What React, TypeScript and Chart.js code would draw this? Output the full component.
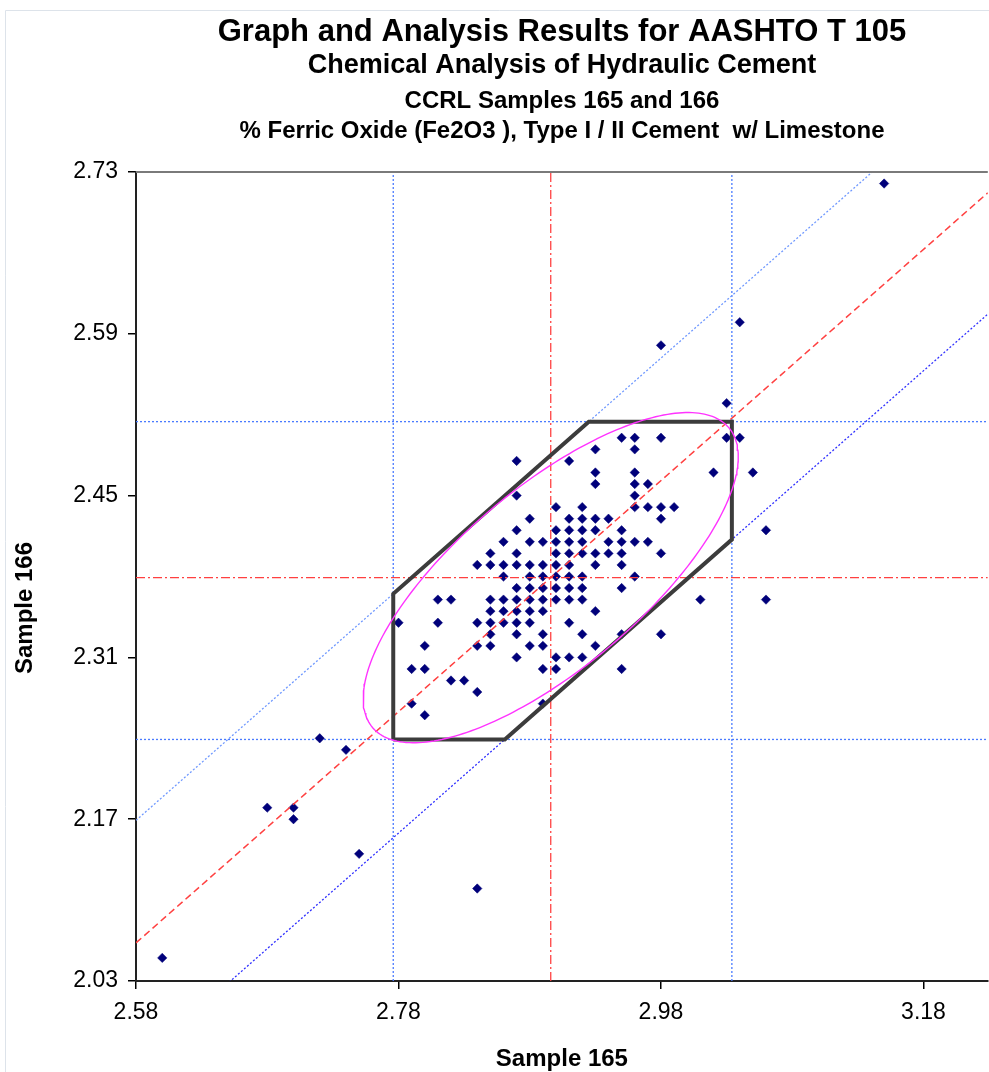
import React, { useEffect, useRef } from "react";
import { Chart, registerables } from "chart.js";

Chart.register(...registerables);

const FONT = "'Liberation Sans', Arial, Helvetica, sans-serif";

const titleLines = [
  "Graph and Analysis Results for AASHTO T 105",
  "Chemical Analysis of Hydraulic Cement",
  "CCRL Samples 165 and 166",
  "% Ferric Oxide (Fe2O3 ), Type I / II Cement  w/ Limestone",
];
const xAxisTitle = "Sample 165";
const yAxisTitle = "Sample 166";

const xTicks = [2.58, 2.78, 2.98, 3.18];
const yTicks = [2.03, 2.17, 2.31, 2.45, 2.59, 2.73];
const xRange = [2.58, 3.229];
const yRange = [2.03, 2.73];

// Laboratory results, one entry per lab: Sample 165 (x) and Sample 166 (y)
const sample165 = [
  3.15,
  3.04,
  2.98,
  3.03,
  2.95, 2.96, 2.98, 3.03, 3.04,
  2.93, 2.96,
  2.87, 2.91,
  2.93, 2.96, 3.02, 3.05,
  2.93, 2.96, 2.97,
  2.87, 2.96,
  2.90, 2.92, 2.96, 2.97, 2.98, 2.99,
  2.88, 2.91, 2.92, 2.93, 2.94, 2.98,
  2.87, 2.90, 2.91, 2.92, 2.93, 2.95, 3.06,
  2.86, 2.88, 2.89, 2.90, 2.91, 2.92, 2.94, 2.95, 2.96, 2.97,
  2.85, 2.87, 2.90, 2.91, 2.92, 2.93, 2.94, 2.95, 2.98,
  2.84, 2.85, 2.86, 2.87, 2.88, 2.89, 2.90, 2.91, 2.93, 2.95,
  2.86, 2.88, 2.89, 2.90, 2.91, 2.92, 2.96,
  2.87, 2.88, 2.89, 2.90, 2.91, 2.92, 2.95,
  2.81, 2.82, 2.85, 2.86, 2.87, 2.88, 2.89, 2.90, 2.91, 2.92, 3.01, 3.06,
  2.85, 2.86, 2.87, 2.88, 2.89, 2.93,
  2.78, 2.81, 2.84, 2.85, 2.86, 2.87, 2.88, 2.91,
  2.85, 2.87, 2.89, 2.92, 2.95, 2.98,
  2.80, 2.84, 2.85, 2.88, 2.89, 2.93,
  2.87, 2.90, 2.91, 2.92,
  2.79, 2.80, 2.89, 2.90, 2.95,
  2.82, 2.83,
  2.84,
  2.79, 2.89,
  2.80,
  2.72,
  2.74,
  2.68, 2.70,
  2.70,
  2.75,
  2.84,
  2.60,
];

const sample166 = [
  2.72,
  2.60,
  2.58,
  2.53,
  2.50, 2.50, 2.50, 2.50, 2.50,
  2.49, 2.49,
  2.48, 2.48,
  2.47, 2.47, 2.47, 2.47,
  2.46, 2.46, 2.46,
  2.45, 2.45,
  2.44, 2.44, 2.44, 2.44, 2.44, 2.44,
  2.43, 2.43, 2.43, 2.43, 2.43, 2.43,
  2.42, 2.42, 2.42, 2.42, 2.42, 2.42, 2.42,
  2.41, 2.41, 2.41, 2.41, 2.41, 2.41, 2.41, 2.41, 2.41, 2.41,
  2.40, 2.40, 2.40, 2.40, 2.40, 2.40, 2.40, 2.40, 2.40,
  2.39, 2.39, 2.39, 2.39, 2.39, 2.39, 2.39, 2.39, 2.39, 2.39,
  2.38, 2.38, 2.38, 2.38, 2.38, 2.38, 2.38,
  2.37, 2.37, 2.37, 2.37, 2.37, 2.37, 2.37,
  2.36, 2.36, 2.36, 2.36, 2.36, 2.36, 2.36, 2.36, 2.36, 2.36, 2.36, 2.36,
  2.35, 2.35, 2.35, 2.35, 2.35, 2.35,
  2.34, 2.34, 2.34, 2.34, 2.34, 2.34, 2.34, 2.34,
  2.33, 2.33, 2.33, 2.33, 2.33, 2.33,
  2.32, 2.32, 2.32, 2.32, 2.32, 2.32,
  2.31, 2.31, 2.31, 2.31,
  2.30, 2.30, 2.30, 2.30, 2.30,
  2.29, 2.29,
  2.28,
  2.27, 2.27,
  2.26,
  2.24,
  2.23,
  2.18, 2.18,
  2.17,
  2.14,
  2.11,
  2.05,
];

// Averages of the two samples
const mean165 = 2.896;
const mean166 = 2.379;
// Acceptance limits for each sample
const limits165 = [2.776, 3.034];
const limits166 = [2.239, 2.514];
// Offsets of the y = x + c lines (1:1 line through the averages and its bounds)
const diagOffsetMid = mean166 - mean165;
const diagOffsetUpper = -0.411;
const diagOffsetLower = -0.622;
// Confidence ellipse semi-axes, along and across the 1:1 direction
const ellipseMajor = 0.188;
const ellipseMinor = 0.074;

type P = { x: number; y: number };

function diagonal(offset: number): P[] {
  return [
    { x: xRange[0], y: xRange[0] + offset },
    { x: xRange[1], y: xRange[1] + offset },
  ];
}

function ellipsePoints(): P[] {
  const pts: P[] = [];
  const n = 240;
  for (let i = 0; i <= n; i++) {
    const t = (i / n) * Math.PI * 2;
    const u = ellipseMajor * Math.cos(t);
    const v = ellipseMinor * Math.sin(t);
    pts.push({ x: mean165 + (u - v) / Math.SQRT2, y: mean166 + (u + v) / Math.SQRT2 });
  }
  return pts;
}

function acceptancePolygon(): P[] {
  const [xl, xh] = limits165;
  const [yl, yh] = limits166;
  return [
    { x: xl, y: yl },
    { x: xl, y: xl + diagOffsetUpper },
    { x: yh - diagOffsetUpper, y: yh },
    { x: xh, y: yh },
    { x: xh, y: xh + diagOffsetLower },
    { x: yl - diagOffsetLower, y: yl },
    { x: xl, y: yl },
  ];
}

function lineSet(data: P[], color: string, width: number, dash: number[], order: number) {
  return {
    data,
    showLine: true,
    borderColor: color,
    backgroundColor: color,
    borderWidth: width,
    borderDash: dash,
    borderCapStyle: "butt",
    pointRadius: 0,
    pointHoverRadius: 0,
    fill: false,
    tension: 0,
    order,
  };
}

const decorations = {
  id: "decorations",
  afterDraw(chart: any) {
    const ctx: CanvasRenderingContext2D = chart.ctx;
    const { left, right, top } = chart.chartArea;
    ctx.save();
    // outer frame
    ctx.strokeStyle = "#dde3ea";
    ctx.lineWidth = 1;
    ctx.beginPath();
    ctx.moveTo(5.5, 1072);
    ctx.lineTo(5.5, 10.5);
    ctx.lineTo(993, 10.5);
    ctx.stroke();
    // top edge of the plot
    ctx.strokeStyle = "#7a7a7a";
    ctx.lineWidth = 2;
    ctx.beginPath();
    ctx.moveTo(left, top);
    ctx.lineTo(right, top);
    ctx.stroke();
    // heading
    const sizes = [31, 27, 24, 24];
    const ys = [32, 66, 101, 131];
    ctx.fillStyle = "#000";
    ctx.textAlign = "center";
    ctx.textBaseline = "middle";
    titleLines.forEach((t, i) => {
      ctx.font = `bold ${sizes[i]}px ${FONT}`;
      ctx.fillText(t, 562, ys[i]);
    });
    // vertical axis title
    ctx.translate(25, 608);
    ctx.rotate(-Math.PI / 2);
    ctx.font = `bold 24px ${FONT}`;
    ctx.fillText(yAxisTitle, 0, 0);
    ctx.restore();
  },
};

export default function App() {
  const ref = useRef<HTMLCanvasElement>(null);

  useEffect(() => {
    if (!ref.current) return;
    const points: P[] = sample165.map((x, i) => ({ x, y: sample166[i] }));
    const blue = "#4a7bff";
    const red = "#ff4040";

    const chart = new Chart(ref.current, {
      type: "scatter",
      data: {
        datasets: [
          lineSet(ellipsePoints(), "#ff33ff", 1.4, [], 0),
          lineSet(acceptancePolygon(), "#3c3c3c", 4, [], 1),
          lineSet(diagonal(diagOffsetMid), red, 1.5, [7, 4], 2),
          lineSet([{ x: mean165, y: yRange[0] }, { x: mean165, y: yRange[1] }], red, 1.3, [9, 3, 2, 3], 3),
          lineSet([{ x: xRange[0], y: mean166 }, { x: xRange[1], y: mean166 }], red, 1.3, [9, 3, 2, 3], 3),
          {
            data: points,
            showLine: false,
            pointStyle: "rectRot",
            pointRadius: 4.7,
            pointHoverRadius: 4.7,
            backgroundColor: "#00007a",
            borderColor: "#00007a",
            borderWidth: 0.5,
            order: 4,
          },
          lineSet(diagonal(diagOffsetUpper), "#6f98ff", 1.3, [2, 2], 5),
          lineSet(diagonal(diagOffsetLower), "#2f2fff", 1.3, [2, 2], 5),
          lineSet([{ x: limits165[0], y: yRange[0] }, { x: limits165[0], y: yRange[1] }], blue, 1.3, [2, 2], 5),
          lineSet([{ x: limits165[1], y: yRange[0] }, { x: limits165[1], y: yRange[1] }], blue, 1.3, [2, 2], 5),
          lineSet([{ x: xRange[0], y: limits166[0] }, { x: xRange[1], y: limits166[0] }], blue, 1.3, [2, 2], 5),
          lineSet([{ x: xRange[0], y: limits166[1] }, { x: xRange[1], y: limits166[1] }], blue, 1.3, [2, 2], 5),
        ] as any,
      },
      options: {
        animation: false,
        responsive: false,
        devicePixelRatio: 1,
        layout: { padding: { top: 172, right: 0, bottom: 0, left: 0 } },
        plugins: {
          legend: { display: false },
          tooltip: { enabled: false },
          title: { display: false },
        },
        scales: {
          x: {
            type: "linear",
            min: xRange[0],
            max: xRange[1],
            afterBuildTicks: (s: any) => {
              s.ticks = xTicks.map((v) => ({ value: v }));
            },
            afterFit: (s: any) => {
              s.height = 91;
            },
            ticks: {
              color: "#000",
              font: { family: FONT, size: 23 },
              padding: 10,
              maxRotation: 0,
              callback: (v: any) => Number(v).toFixed(2),
            },
            grid: { drawOnChartArea: false, drawTicks: true, tickLength: 8, color: "#000", lineWidth: 1.5 },
            border: { display: true, color: "#222", width: 2 },
            title: {
              display: true,
              text: xAxisTitle,
              color: "#000",
              font: { family: FONT, size: 24, weight: "bold" },
              padding: { top: 0, bottom: -2 },
            },
          },
          y: {
            type: "linear",
            min: yRange[0],
            max: yRange[1],
            afterBuildTicks: (s: any) => {
              s.ticks = yTicks.map((v) => ({ value: v }));
            },
            afterFit: (s: any) => {
              s.width = 136;
            },
            ticks: {
              color: "#000",
              font: { family: FONT, size: 23 },
              padding: 10,
              callback: (v: any) => Number(v).toFixed(2),
            },
            grid: { drawOnChartArea: false, drawTicks: true, tickLength: 8, color: "#000", lineWidth: 1.5 },
            border: { display: true, color: "#222", width: 2 },
          },
        },
      } as any,
      plugins: [decorations],
    });
    return () => chart.destroy();
  }, []);

  return (
    <div
      style={{
        position: "fixed",
        left: 0,
        top: 0,
        width: 989,
        height: 1072,
        overflow: "hidden",
        background: "#fff",
      }}
    >
      <canvas ref={ref} width={993} height={1072} style={{ display: "block" }} />
    </div>
  );
}
